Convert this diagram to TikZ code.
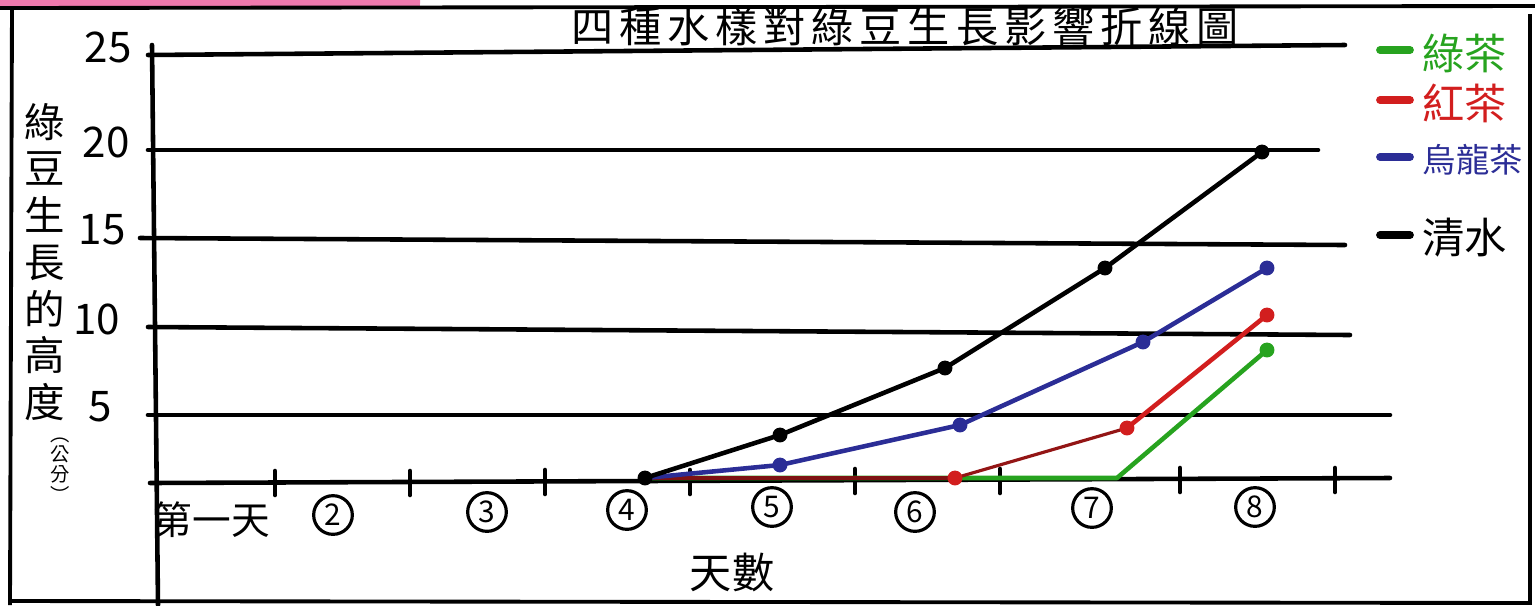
\documentclass[tikz,border=0pt]{standalone}
\usepackage{fontspec}
\setmainfont{Noto Sans CJK TC}
\newfontfamily\cjk{Noto Sans CJK TC}
\usetikzlibrary{positioning,calc}
\definecolor{greentea}{HTML}{27A31F}
\definecolor{blacktea}{HTML}{D21E1E}
\definecolor{oolong}{HTML}{2B2D96}
\definecolor{marker}{HTML}{E8408A}
\tikzstyle{grid}=[draw=black,line width=1.3pt,line cap=round]
\tikzstyle{frame}=[draw=black,line width=1.1pt]
\tikzstyle{series}=[line width=1.3pt,line cap=round,line join=round]
\tikzstyle{dot}=[circle,fill,inner sep=1.5pt]
\tikzstyle{ticklabel}=[font=\cjk\fontsize{12}{12}\selectfont]
\tikzstyle{daylabel}=[circle,draw,line width=0.9pt,inner sep=0.6pt,minimum size=11pt,font=\cjk\fontsize{8.5}{9}\selectfont]
\begin{document}
\begin{tikzpicture}[x=0.01cm,y=-0.01cm]
    \useasboundingbox (0,0) rectangle (1535,605);

    % paper frame
    \draw[marker,line width=3pt,opacity=0.7] (0,2) -- (420,3);
    \draw[frame] (0,8) -- (1535,6);
    \draw[frame] (12,8) -- (10,605);
    \draw[frame] (1530,14) -- (1530,605);
    \draw[frame] (10,601) -- (1530,603);

    % title
    \node[font=\cjk\fontsize{12}{13}\selectfont\addfontfeatures{LetterSpace=14}] (title) at (905,26) {四種水樣對綠豆生長影響折線圖};

    % grid lines and y labels
    \foreach \v/\yl/\yr/\xs/\xe/\lx in {25/55/45/148/1345/108, 20/150/150/148/1318/106, 15/238/245/140/1345/102, 10/327/335/148/1350/97, 5/415/415/148/1390/100} {
        \coordinate (gl\v) at (\xs,\yl);
        \coordinate (gr\v) at (\xe,\yr);
        \draw[grid] (gl\v) -- (gr\v);
        \node[ticklabel] (t\v) at (\lx,\yl-8) {\v};
    }

    % axes
    \coordinate (origin) at (150,483);
    \coordinate (xend) at (1390,478);
    \coordinate (ytop) at (152,45);
    \coordinate (ybot) at (158,605);
    \draw[grid] (origin) -- (xend);
    \draw[grid] (ytop) -- (ybot);

    % x ticks
    \foreach \x/\y in {275/481, 410/481, 545/480, 690/480, 855/479, 1000/479, 1180/478, 1335/478}
        \draw[grid] (\x,\y-10) -- (\x,\y+14);

    % day labels
    \node[font=\cjk\fontsize{11}{12}\selectfont] (d1) at (212,520) {第一天};
    \foreach \n/\x/\y in {2/333/515, 3/487/512, 4/627/510, 5/772/507, 6/915/512, 7/1092/508, 8/1255/507}
        \node[daylabel] (d\n) at (\x,\y) {\n};

    % axis titles
    \node[font=\cjk\fontsize{12}{12}\selectfont] (xtitle) at (732,572) {天數};
    \node[font=\cjk\fontsize{11.5}{13.3}\selectfont, align=center] (ytitle) at (45,262) {綠\\豆\\生\\長\\的\\高\\度};
    \node[font=\cjk\fontsize{5.5}{5.8}\selectfont, align=center, inner sep=0pt] (yunit) at (60,470) {︵\\公\\分\\︶};

    % data points
    \coordinate (c4) at (645,478);
    \coordinate (w5) at (780,435);
    \coordinate (w6) at (945,368);
    \coordinate (w7) at (1105,268);
    \coordinate (w8) at (1262,152);
    \coordinate (o5) at (780,465);
    \coordinate (o6) at (960,425);
    \coordinate (o7) at (1143,342);
    \coordinate (o8) at (1267,268);
    \coordinate (r6) at (955,478);
    \coordinate (r7) at (1127,428);
    \coordinate (r8) at (1267,315);
    \coordinate (g7) at (1117,478);
    \coordinate (g8) at (1267,350);

    % green tea
    \draw[series, greentea] (c4) -- (g7) -- (g8);
    \node[dot, greentea] at (g8) {};
    % black tea
    \draw[series, blacktea!70!black, line width=0.9pt] (r6) -- (r7);
    \draw[series, blacktea] (r7) -- (r8);
    \draw[series, blacktea!60!black] (c4) -- (r6);
    \foreach \p in {r6,r7,r8} \node[dot, blacktea] at (\p) {};
    % oolong
    \draw[series, oolong] (c4) -- (o5) -- (o6) -- (o7) -- (o8);
    \foreach \p in {o5,o6,o7,o8} \node[dot, oolong] at (\p) {};
    % water
    \draw[series, black] (c4) -- (w5) -- (w6) -- (w7) -- (w8);
    \foreach \p in {c4,w5,w6,w7,w8} \node[dot, black] at (\p) {};

    % legend
    \foreach \c/\t/\y/\fs [count=\i] in {greentea/綠茶/50/12, blacktea/紅茶/100/12, oolong/烏龍茶/157/9.5, black/清水/235/12} {
        \coordinate (ls\i) at (1380,\y);
        \coordinate (le\i) at (1410,\y);
        \draw[\c, line width=2.2pt, line cap=round] (ls\i) -- (le\i);
        \node[\c, anchor=west, font=\cjk\fontsize{\fs}{13}\selectfont, inner sep=0pt] (lt\i) at (1422,\y+3) {\t};
    }
\end{tikzpicture}
\end{document}
